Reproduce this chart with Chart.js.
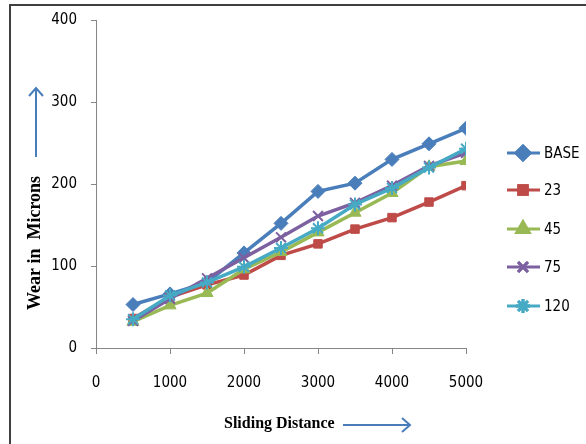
<!DOCTYPE html>
<html>
<head>
<meta charset="utf-8">
<script src="https://cdn.jsdelivr.net/npm/chart.js@4"></script>
<style>
  html, body { margin: 0; padding: 0; background: #fff; }
  #wrap { width: 586px; height: 444px; position: relative; }
</style>
</head>
<body>
<div id="wrap"><canvas id="chart"></canvas></div>
<script>
// sliding distance (x) and wear values per series
const distances = [500, 1000, 1500, 2000, 2500, 3000, 3500, 4000, 4500, 5000];
const seriesNames = ['BASE', '23', '45', '75', '120'];
const wearBase = [53, 66, 80, 116, 152, 191, 201, 230, 249, 268];
const wear23 = [36, 62, 77, 89, 113, 127, 145, 159, 178, 198];
const wear45 = [32, 52, 67, 96, 117, 141, 165, 189, 221, 228];
const wear75 = [33, 60, 85, 110, 135, 161, 177, 198, 222, 238];
const wear120 = [35, 64, 80, 99, 122, 146, 175, 195, 220, 243];
const xTicks = [0, 1000, 2000, 3000, 4000, 5000];
const yTicks = [0, 100, 200, 300, 400];

const colors = ['#4A7EBB', '#BE4B48', '#98B954', '#7D60A0', '#46AAC5'];
const markers = ['rectRot', 'rect', 'triangle', 'crossRot', 'star'];
const allWear = [wearBase, wear23, wear45, wear75, wear120];

const tickFont = { family: '"Liberation Sans Narrow", "DejaVu Sans Condensed", "Liberation Sans", sans-serif', size: 15 };

const datasets = allWear.map((vals, i) => ({
  label: seriesNames[i],
  data: vals.map((v, j) => ({ x: distances[j], y: v })),
  borderColor: colors[i],
  backgroundColor: colors[i],
  pointBackgroundColor: colors[i],
  pointBorderColor: colors[i],
  pointStyle: markers[i],
  pointRadius: i === 1 ? 6 : 7,
  pointBorderWidth: i >= 3 ? 2 : 1,
  borderWidth: 3.5,
  tension: 0,
  order: 5 - i,
}));

// frame, axis arrows and the side legend
const decorations = {
  id: 'decorations',
  afterDraw(chart) {
    const ctx = chart.ctx;
    ctx.save();
    // frame (top and left only)
    ctx.strokeStyle = '#404040';
    ctx.lineWidth = 2;
    ctx.beginPath();
    ctx.moveTo(10, 444);
    ctx.lineTo(10, 5);
    ctx.lineTo(586, 5);
    ctx.stroke();

    // axis titles
    ctx.fillStyle = '#000';
    ctx.textBaseline = 'middle';
    ctx.textAlign = 'left';
    ctx.font = 'bold 16px "Liberation Serif", "DejaVu Serif", serif';
    ctx.fillText('Sliding Distance', 224, 424);
    ctx.save();
    ctx.translate(35, 243);
    ctx.rotate(-Math.PI / 2);
    ctx.textAlign = 'center';
    ctx.font = 'bold 18px "Liberation Serif", "DejaVu Serif", serif';
    ctx.fillText('Wear in  Microns', 0, 0);
    ctx.restore();

    // arrows
    ctx.strokeStyle = '#4A7EBB';
    ctx.lineWidth = 2;
    ctx.beginPath();
    ctx.moveTo(343, 425); ctx.lineTo(410, 425);
    ctx.moveTo(402, 418); ctx.lineTo(410, 425); ctx.lineTo(402, 432);
    ctx.moveTo(36, 157); ctx.lineTo(36, 88);
    ctx.moveTo(29, 96); ctx.lineTo(36, 88); ctx.lineTo(43, 96);
    ctx.stroke();

    // legend
    const legendY = [153, 190, 229, 267, 306];
    ctx.font = '15px ' + tickFont.family;
    ctx.textAlign = 'left';
    chart.data.datasets.forEach((ds, i) => {
      const y = legendY[i];
      ctx.strokeStyle = ds.borderColor;
      ctx.lineWidth = 3;
      ctx.beginPath();
      ctx.moveTo(507, y); ctx.lineTo(540, y);
      ctx.stroke();
      Chart.helpers.drawPoint(ctx, {
        pointStyle: ds.pointStyle,
        radius: ds.pointRadius,
        borderWidth: ds.pointBorderWidth,
        rotation: 0,
      }, 523, y);
      ctx.fillStyle = ds.borderColor;
      ctx.fill();
      ctx.stroke();
      ctx.fillStyle = '#000';
      ctx.fillText(ds.label, 544, y + 1);
    });
    ctx.restore();
  }
};

new Chart(document.getElementById('chart'), {
  type: 'line',
  data: { datasets },
  options: {
    responsive: true,
    maintainAspectRatio: false,
    animation: false,
    layout: { padding: { top: 20, right: 120, left: 0, bottom: 0 } },
    plugins: {
      legend: { display: false },
      tooltip: { enabled: false },
    },
    scales: {
      x: {
        type: 'linear',
        min: 0,
        max: 5000,
        afterFit: (s) => { s.height = 96; },
        afterBuildTicks: (s) => { s.ticks = xTicks.map(v => ({ value: v })); },
        border: { color: '#868686', width: 1 },
        grid: { drawOnChartArea: false, drawTicks: true, tickLength: 6, color: '#868686' },
        ticks: { color: '#000', font: tickFont, padding: 20, maxRotation: 0, callback: (v) => String(v) },
      },
      y: {
        min: 0,
        max: 400,
        afterFit: (s) => { s.width = 96; s.paddingTop = 0; s.paddingBottom = 0; },
        afterBuildTicks: (s) => { s.ticks = yTicks.map(v => ({ value: v })); },
        border: { color: '#868686', width: 1 },
        grid: { drawOnChartArea: false, drawTicks: true, tickLength: 5, color: '#868686' },
        ticks: { color: '#000', font: tickFont, padding: 14 },
      },
    },
  },
  plugins: [decorations],
});
</script>
</body>
</html>
